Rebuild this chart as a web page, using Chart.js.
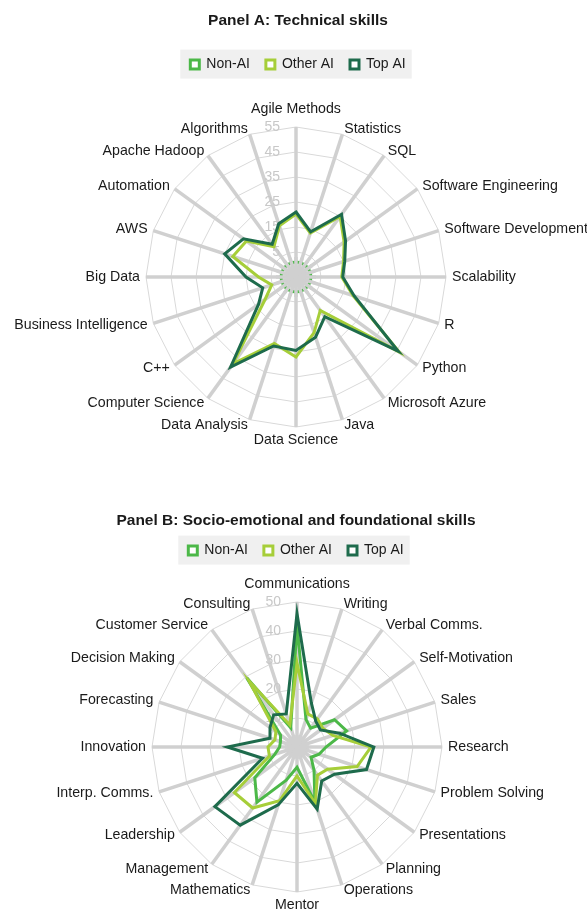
<!DOCTYPE html>
<html>
<head>
<meta charset="utf-8">
<script src="https://cdn.jsdelivr.net/npm/chart.js@4.4.1/dist/chart.umd.min.js"></script>
<style>
    html, body { margin: 0; padding: 0; background: #ffffff; }
    .panel { position: absolute; left: 0; width: 587px; }
    #wrapA { top: 0; height: 476px; }
    #wrapB { top: 500px; height: 413px; }
</style>
</head>
<body>
<div class="panel" id="wrapA"><canvas id="chartA"></canvas></div>
<div class="panel" id="wrapB"><canvas id="chartB"></canvas></div>
<script>
// Panel A - habilidades técnicas
const techSkills = ['Agile Methods', 'Statistics', 'SQL', 'Software Engineering', 'Software Development',
    'Scalability', 'R', 'Python', 'Microsoft Azure', 'Java', 'Data Science', 'Data Analysis',
    'Computer Science', 'C++', 'Business Intelligence', 'Big Data', 'AWS', 'Automation',
    'Apache Hadoop', 'Algorithms'];
const techNonAI   = [1, 1, 1, 1, 1, 1, 1, 1, 1, 1, 1, 1, 1, 1, 1, 1, 1, 1, 1, 1];
const techOtherAI = [20.2, 13.5, 25, 18.8, 15, 13.3, 19, 46, 11.5, 18.4, 27, 23, 38, 10.3, 5.2, 10, 21.6, 19.5, 10, 16.5];
const techTopAI   = [21, 14, 26, 19.5, 15.5, 13.7, 19.5, 45.5, 14.6, 20.3, 24.4, 24, 39.5, 13.5, 9, 15, 25, 21, 11.2, 17.4];
const techTicks   = [5, 15, 25, 35, 45, 55];

// Panel B - habilidades socioemocionales y fundamentales
const softSkills = ['Communications', 'Writing', 'Verbal Comms.', 'Self-Motivation', 'Sales', 'Research',
    'Problem Solving', 'Presentations', 'Planning', 'Operations', 'Mentor', 'Mathematics',
    'Management', 'Leadership', 'Interp. Comms.', 'Innovation', 'Forecasting', 'Decision Making',
    'Customer Service', 'Consulting'];
const softNonAI   = [42, 10, 8, 16, 18, 10, 8, 6, 10, 20, 7, 12, 23.5, 18, 8, 6, 6, 7, 29.5, 7];
const softOtherAI = [29, 12, 12, 11, 13, 25.5, 21.8, 13, 12, 20.5, 10, 19.5, 26, 26.7, 10, 10, 8, 9, 28, 8];
const softTopAI   = [46, 16, 11, 10, 15.4, 26.5, 25.2, 16, 14.5, 22.5, 12.5, 21, 33.3, 35, 12.5, 24, 9.8, 11.5, 13.7, 12];
const softTicks   = [10, 20, 30, 40, 50];

const colors = {
    nonAI: '#4cb848',
    otherAI: '#a6ce39',
    topAI: '#1e6b4c',
    grid: '#d9d9d9',
    spoke: '#d0d0d0',
    tick: '#c8c8c8',
    text: '#1a1a1a',
    legendBg: '#f0f0f0'
};

const FONT = "'Liberation Sans', Arial, sans-serif";

// Fondo gris detrás de la leyenda
const legendBox = {
    id: 'legendBox',
    beforeDraw(chart) {
        const lg = chart.legend;
        if (!lg || !lg.legendHitBoxes.length) return;
        const boxes = lg.legendHitBoxes;
        const left = Math.min(...boxes.map(b => b.left)) - 10;
        const right = Math.max(...boxes.map(b => b.left + b.width)) + 6;
        const top = boxes[0].top - 8;
        const height = boxes[0].height + 15;
        const ctx = chart.ctx;
        ctx.save();
        ctx.fillStyle = colors.legendBg;
        ctx.fillRect(left, top, right - left, height);
        ctx.restore();
    }
};

// Etiquetas de la escala a la izquierda del eje vertical
const sideTicks = {
    id: 'sideTicks',
    beforeDatasetsDraw(chart, args, opts) {
        const s = chart.scales.r;
        const ctx = chart.ctx;
        ctx.save();
        ctx.font = '14px ' + FONT;
        ctx.fillStyle = colors.tick;
        ctx.textAlign = 'right';
        ctx.textBaseline = 'middle';
        opts.values.forEach(v => {
            const d = s.getDistanceFromCenterForValue(v);
            ctx.fillText(String(v), s.xCenter - 16, s.yCenter - d);
        });
        ctx.restore();
    }
};

// Los radios tapan el centro (como en el original)
const centerSpokes = {
    id: 'centerSpokes',
    afterDatasetsDraw(chart, args, opts) {
        const s = chart.scales.r;
        const ctx = chart.ctx;
        ctx.save();
        ctx.strokeStyle = colors.spoke;
        ctx.lineWidth = 3.5;
        chart.data.labels.forEach((l, i) => {
            const p = s.getPointPosition(i, opts.radius);
            ctx.beginPath();
            ctx.moveTo(s.xCenter, s.yCenter);
            ctx.lineTo(p.x, p.y);
            ctx.stroke();
        });
        ctx.restore();
    }
};

// Etiquetas de categorías al estilo Excel (centradas verticalmente en el extremo del radio)
const edgeLabels = {
    id: 'edgeLabels',
    afterDraw(chart) {
        const s = chart.scales.r;
        const ctx = chart.ctx;
        const r = s.drawingArea;
        ctx.save();
        ctx.font = '14.2px ' + FONT;
        ctx.fillStyle = colors.text;
        ctx.textBaseline = 'middle';
        chart.data.labels.forEach((label, i) => {
            const end = s.getPointPosition(i, r);
            const a = s.getIndexAngle(i);
            const sin = Math.sin(a), cos = Math.cos(a);
            let x = end.x, y = end.y;
            if (Math.abs(sin) < 0.01) {
                ctx.textAlign = 'center';
                y = cos > 0 ? end.y - 17.5 : end.y + 13.5;
            } else {
                ctx.textAlign = sin > 0 ? 'left' : 'right';
                x = end.x + 6 * sin;
                y = end.y - 5.5 * cos;
            }
            ctx.fillText(label, x, y);
        });
        ctx.restore();
    }
};

function makeRadar(id, cfg) {
    const ds = (label, data, color) => ({
        label: label,
        data: data,
        borderColor: color,
        backgroundColor: '#ffffff',
        borderWidth: 3,
        pointRadius: 0,
        fill: false,
        tension: 0
    });
    return new Chart(document.getElementById(id), {
        type: 'radar',
        data: {
            labels: cfg.labels,
            datasets: [
                ds('Top AI', cfg.top, colors.topAI),
                ds('Other AI', cfg.other, colors.otherAI),
                ds('Non-AI', cfg.non, colors.nonAI)
            ]
        },
        options: {
            responsive: true,
            maintainAspectRatio: false,
            animation: false,
            layout: { padding: cfg.padding },
            plugins: {
                title: {
                    display: true,
                    text: cfg.title,
                    color: colors.text,
                    font: { family: FONT, size: 15.5, weight: 'bold' },
                    padding: cfg.titlePadding
                },
                legend: {
                    position: 'top',
                    reverse: true,
                    labels: {
                        color: colors.text,
                        font: { family: FONT, size: 14 },
                        boxWidth: 9,
                        boxHeight: 9,
                        padding: 16
                    }
                },
                tooltip: { enabled: false },
                sideTicks: { values: cfg.ticks },
                centerSpokes: { radius: cfg.cover }
            },
            scales: {
                r: {
                    min: cfg.min,
                    max: cfg.max,
                    ticks: { stepSize: 10, display: false },
                    grid: { color: colors.grid, lineWidth: 1 },
                    angleLines: { color: colors.spoke, lineWidth: 3.5 },
                    pointLabels: { display: false },
                    // centro y radio del gráfico fijados como en el original
                    afterFit(scale) {
                        scale.xCenter = cfg.geom.cx;
                        scale.yCenter = cfg.geom.cy;
                        scale.drawingArea = cfg.geom.r;
                    }
                }
            }
        },
        plugins: [legendBox, sideTicks, centerSpokes, edgeLabels]
    });
}

makeRadar('chartA', {
    title: 'Panel A: Technical skills',
    labels: techSkills, top: techTopAI, other: techOtherAI, non: techNonAI,
    min: -5, max: 55, ticks: techTicks, cover: 20,
    geom: { cx: 296, cy: 277, r: 150 },
    padding: { left: 9, right: 0, top: 0, bottom: 0 },
    titlePadding: { top: 11, bottom: 12 }
});
makeRadar('chartB', {
    title: 'Panel B: Socio-emotional and foundational skills',
    labels: softSkills, top: softTopAI, other: softOtherAI, non: softNonAI,
    min: 0, max: 50, ticks: softTicks, cover: 12,
    geom: { cx: 297, cy: 247, r: 145 },
    padding: { left: 5, right: 0, top: 0, bottom: 0 },
    titlePadding: { top: 11, bottom: -2 }
});
</script>
</body>
</html>
